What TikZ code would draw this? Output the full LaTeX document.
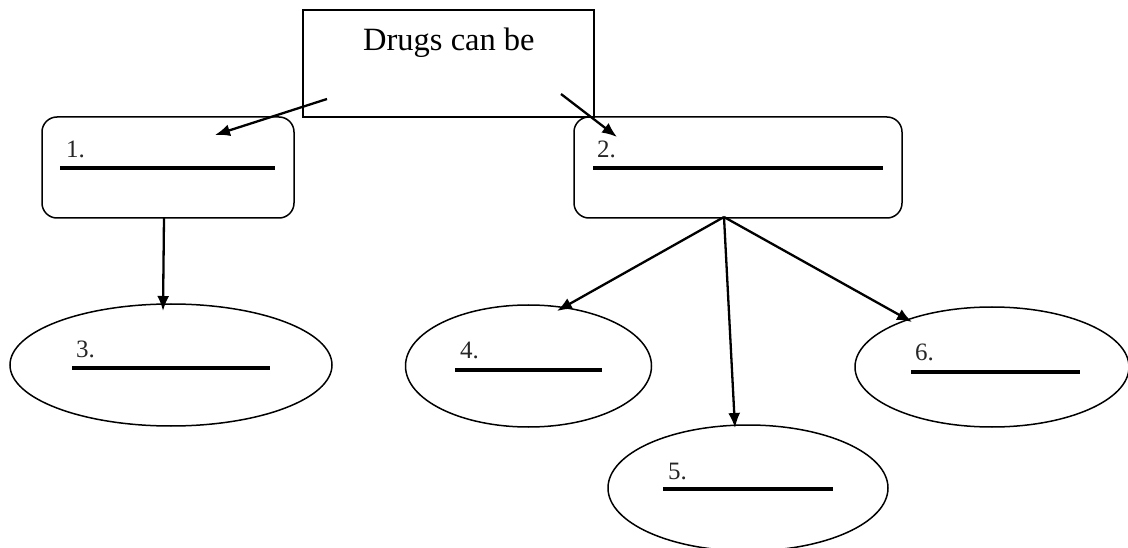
\documentclass[tikz,border=0pt]{standalone}
\usepackage{fontspec}
\setmainfont{Liberation Serif}
\usetikzlibrary{arrows.meta,shapes.geometric}
\begin{document}
\begin{tikzpicture}[x=1pt,y=-1pt,
  box/.style={draw,line width=1.5pt,inner sep=0pt,rounded corners=15pt},
  topbox/.style={draw,line width=1.5pt,inner sep=0pt},
  oval/.style={draw,ellipse,line width=1.5pt,inner sep=0pt},
  lbl/.style={anchor=base west,inner sep=0pt,font=\fontsize{25}{29}\selectfont,text=black!85},
  blank/.style={line width=3.2pt,line cap=butt},
  arr/.style={line width=2.3pt,-{Latex[length=15pt,width=12pt]}}]
\useasboundingbox (0,0) rectangle (1128,548);
% top box
\node[topbox,minimum width=291pt,minimum height=107pt] (top) at (448.5,63.5) {};
\node[anchor=base west,inner sep=0pt,font=\fontsize{32.5}{38}\selectfont] (toptext) at (363,51) {Drugs can be};
% rounded boxes
\node[box,minimum width=252pt,minimum height=101pt] (b1) at (168,167.5) {};
\node[box,minimum width=328pt,minimum height=101pt] (b2) at (738,167.5) {};
\node[lbl] (l1) at (66,158) {1.};
\node[lbl] (l2) at (597,158) {2.};
\draw[blank] (60,168) -- (275,168);
\draw[blank] (593,168) -- (883,168);
% ellipses
\node[oval,minimum width=322pt,minimum height=122pt] (e3) at (171,365) {};
\node[oval,minimum width=246pt,minimum height=122pt] (e4) at (528.5,366) {};
\node[oval,minimum width=280pt,minimum height=126pt] (e5) at (748,488) {};
\node[oval,minimum width=274pt,minimum height=120pt] (e6) at (992,367) {};
\node[lbl] (l3) at (76,357) {3.};
\node[lbl] (l4) at (460,359) {4.};
\node[lbl] (l5) at (668,479) {5.};
\node[lbl] (l6) at (915,360) {6.};
\draw[blank] (72,368) -- (270,368);
\draw[blank] (455,370) -- (602,370);
\draw[blank] (663,489) -- (833,489);
\draw[blank] (911,372) -- (1080,372);
% connector points
\coordinate (s1) at (327,99);
\coordinate (t1) at (215,135);
\coordinate (s2) at (561,94);
\coordinate (t2) at (617,137);
\coordinate (s3) at (164,218);
\coordinate (t3) at (163,311);
\coordinate (s4) at (724,217);
\coordinate (t4) at (557,311);
\coordinate (t5) at (735,428);
\coordinate (t6) at (912,322);
\draw[arr] (s1) -- (t1);
\draw[arr] (s2) -- (t2);
\draw[arr] (s3) -- (t3);
\draw[arr] (s4) -- (t4);
\draw[arr] (s4) -- (t5);
\draw[arr] (s4) -- (t6);
\end{tikzpicture}
\end{document}
